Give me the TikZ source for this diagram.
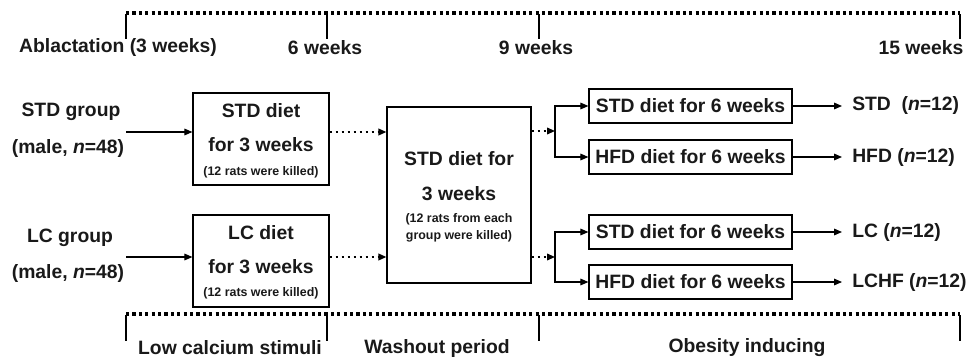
\documentclass[tikz,border=0pt]{standalone}
\usepackage{fontspec}
\setmainfont{Liberation Sans}
\usetikzlibrary{arrows.meta}
\begin{document}
\begin{tikzpicture}[x=0.75pt,y=-0.75pt,
 every node/.style={font=\bfseries\fontsize{14.5}{17}\selectfont, inner sep=0pt, text=black!90},
 small/.style={font=\bfseries\fontsize{9.3}{11}\selectfont},
 box/.style={draw, line width=0.9pt, inner sep=0pt},
 arr/.style={line width=0.8pt, -{Triangle[length=6pt,width=5pt]}},
 darr/.style={arr, line width=1.2pt, dash pattern=on 1.6pt off 2.9pt},
 tl/.style={line width=2.4pt, dash pattern=on 2.4pt off 2.4pt},
 tickl/.style={line width=1.2pt},
 outl/.style={anchor=west, inner xsep=7.5pt},
]
\useasboundingbox (0,0) rectangle (970,360);

% top timeline
\coordinate (t1) at (126,13); \coordinate (t2) at (327,13);
\coordinate (t3) at (539,13); \coordinate (t4) at (960,13);
\draw[tl] (t1) -- (t4);
\foreach \c in {t1,t2,t3,t4} \draw[tickl] ([yshift=-0.9pt]\c) -- ++(0,25);
\node (lab1) at (118,48) {Ablactation (3 weeks)};
\node (lab2) at (325,48) {6 weeks};
\node (lab3) at (536,48) {9 weeks};
\node (lab4) at (921,48) {15 weeks};

% bottom timeline
\coordinate (b1) at (126,314); \coordinate (b2) at (327,314);
\coordinate (b3) at (539,314); \coordinate (b4) at (960,314);
\draw[tl] (b1) -- (b4);
\foreach \c in {b1,b2,b3,b4} \draw[tickl] ([yshift=-0.9pt]\c) -- ++(0,26);
\node (ph1) at (230,348) {Low calcium stimuli};
\node (ph2) at (437,348) {Washout period};
\node (ph3) at (747,348) {Obesity inducing};

% groups
\node (g1a) at (71,112) {STD group};
\node (g1b) at (68,148) {(male, \textit{n}=48)};
\node (g2a) at (70,238) {LC group};
\node (g2b) at (68,273) {(male, \textit{n}=48)};
\coordinate (s1) at (126,132);
\coordinate (s2) at (126,257);

% first-stage boxes
\node[box, minimum width=102pt, minimum height=69pt] (std) at (261,139) {};
\node (stdt1) at (261,111) {STD diet};
\node (stdt2) at (261,145) {for 3 weeks};
\node[small] (stdt3) at (261,172) {(12 rats were killed)};
\node[box, minimum width=102pt, minimum height=69pt] (lc) at (261,261) {};
\node (lct1) at (261,233) {LC diet};
\node (lct2) at (261,267) {for 3 weeks};
\node[small] (lct3) at (261,293) {(12 rats were killed)};

% washout box
\node[box, minimum width=108pt, minimum height=132pt] (wash) at (459,195) {};
\node (wt1) at (459,159) {STD diet for};
\node (wt2) at (459,194) {3 weeks};
\node[small] (wt3) at (459,219) {(12 rats from each};
\node[small] (wt4) at (459,236) {group were killed)};

% right boxes
\node[box, minimum width=152.25pt, minimum height=25.5pt] (r1) at (690.5,106) {STD diet for 6 weeks};
\node[box, minimum width=152.25pt, minimum height=25.5pt] (r2) at (690.5,157) {HFD diet for 6 weeks};
\node[box, minimum width=152.25pt, minimum height=25.5pt] (r3) at (690.5,232) {STD diet for 6 weeks};
\node[box, minimum width=152.25pt, minimum height=25.5pt] (r4) at (690.5,282) {HFD diet for 6 weeks};

% outputs
\node[outl] (o1) at (842,106) {STD\ \ (\textit{n}=12)};
\node[outl] (o2) at (842,157) {HFD (\textit{n}=12)};
\node[outl] (o3) at (842,232) {LC (\textit{n}=12)};
\node[outl] (o4) at (842,282) {LCHF (\textit{n}=12)};

% connectors
\draw[arr] (s1) -- (s1 -| std.west);
\draw[arr] (s2) -- (s2 -| lc.west);
\draw[darr] (std.east |- s1) -- (wash.west |- s1);
\draw[darr] (lc.east |- s2) -- (wash.west |- s2);
\coordinate (k1) at (555,131);
\coordinate (k2) at (555,257);
\draw[darr] (wash.east |- k1) -- (k1);
\draw[darr] (wash.east |- k2) -- (k2);
\draw[arr] (k1) |- (r1.west);
\draw[arr] (k1) |- (r2.west);
\draw[arr] (k2) |- (r3.west);
\draw[arr] (k2) |- (r4.west);
\draw[arr] (r1.east) -- (o1.west);
\draw[arr] (r2.east) -- (o2.west);
\draw[arr] (r3.east) -- (o3.west);
\draw[arr] (r4.east) -- (o4.west);
\end{tikzpicture}
\end{document}
